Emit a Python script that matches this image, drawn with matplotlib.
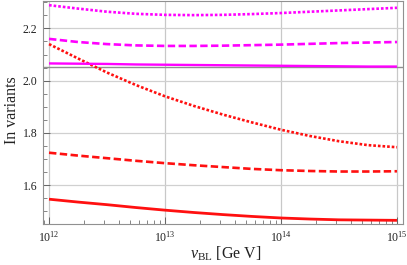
import numpy as np
import matplotlib
matplotlib.use("Agg")
import matplotlib.pyplot as plt
from matplotlib.ticker import LogLocator, FixedLocator, NullFormatter

plt.rcParams['font.family'] = ['Liberation Serif', 'DejaVu Serif']
plt.rcParams['mathtext.fontset'] = 'custom'
plt.rcParams['mathtext.rm'] = 'Liberation Serif'
plt.rcParams['mathtext.it'] = 'Liberation Serif:italic'

# log10(v_BL / GeV)
log_v = [12.0, 12.25, 12.5, 12.75, 13.0, 13.25, 13.5, 13.75, 14.0, 14.25, 14.5, 14.75, 15.0]

red_solid = [1.546, 1.535, 1.525, 1.514, 1.504, 1.495, 1.487, 1.480, 1.474, 1.470, 1.467, 1.466, 1.465]
red_dashed = [1.724, 1.713, 1.703, 1.693, 1.684, 1.676, 1.669, 1.662, 1.657, 1.654, 1.652, 1.652, 1.653]
red_dotted = [2.140, 2.085, 2.031, 1.983, 1.940, 1.903, 1.870, 1.840, 1.812, 1.788, 1.768, 1.753, 1.745]
mag_solid = [2.066, 2.065, 2.064, 2.062, 2.061, 2.060, 2.059, 2.058, 2.057, 2.056, 2.055, 2.054, 2.054]
mag_dashed = [2.160, 2.148, 2.140, 2.135, 2.133, 2.133, 2.134, 2.136, 2.138, 2.141, 2.144, 2.146, 2.148]
mag_dotted = [2.289, 2.276, 2.264, 2.256, 2.252, 2.251, 2.252, 2.255, 2.259, 2.264, 2.269, 2.274, 2.279]

xticks = [1e12, 1e13, 1e14, 1e15]
xticklabels = ['10$^{12}$', '10$^{13}$', '10$^{14}$', '10$^{15}$']
yticks = [1.6, 1.8, 2.0, 2.2]
yticklabels = ['1.6', '1.8', '2.0', '2.2']
axis_level = 2.051

v = 10.0 ** np.array(log_v)

fig = plt.figure(figsize=(4.07, 2.65), dpi=100)
ax = fig.add_axes([43/407, 41/265, 360/407, 223.5/265])

ax.set_xscale('log')
ax.set_xlim(10 ** 11.948, 10 ** 15.052)
ax.set_ylim(1.451, 2.307)

# grid
for xt in xticks:
    ax.axvline(xt, color='#c8c8c8', lw=0.9, zorder=0)
for yt in yticks:
    ax.axhline(yt, color='#d0d0d0', lw=0.9, zorder=0)
ax.axhline(axis_level, color='#909090', lw=1.0, zorder=0.5)

red = '#ff1010'
mag = '#ff00ff'
dot = (0, (1.0, 0.75))
dash = (0, (2.8, 1.3))

ax.plot(v, red_solid, color=red, lw=2.0, solid_capstyle='butt')
ax.plot(v, red_dashed, color=red, lw=1.9, ls=dash, dash_capstyle='butt')
ax.plot(v, red_dotted, color=red, lw=1.9, ls=dot, dash_capstyle='butt')
ax.plot(v, mag_solid, color=mag, lw=1.7, solid_capstyle='butt')
ax.plot(v, mag_dashed, color=mag, lw=1.9, ls=dash, dash_capstyle='butt')
ax.plot(v, mag_dotted, color=mag, lw=1.9, ls=dot, dash_capstyle='butt')

ax.set_xticks(xticks)
ax.set_xticklabels(xticklabels)
ax.xaxis.set_minor_locator(LogLocator(base=10, subs=np.arange(2, 10)))
ax.xaxis.set_minor_formatter(NullFormatter())
ax.set_yticks(yticks)
ax.set_yticklabels(yticklabels)
ax.yaxis.set_minor_locator(FixedLocator([1.5, 1.55, 1.65, 1.7, 1.75, 1.85, 1.9, 1.95,
                                          2.05, 2.1, 2.15, 2.25, 2.3]))

ax.tick_params(which='both', direction='in', color='#555555', labelsize=8.5,
               top=False, right=False, labelcolor='#222222')
ax.tick_params(which='major', length=5, width=0.6)
ax.tick_params(which='minor', length=3, width=0.5)
ax.tick_params(axis='x', pad=4)
ax.tick_params(axis='y', pad=4)

for s in ax.spines.values():
    s.set_color('#909090')
    s.set_linewidth(0.8)

fig.text(12/407, 1 - 110/265, 'In variants', rotation=90, fontsize=11.5,
         color='#222222', ha='center', va='center')
fig.text(226/407, 1 - 254/265, r'$\mathit{v}_{\mathrm{BL}}$ [Ge V]', fontsize=11.5,
         color='#222222', ha='center', va='center')

fig.savefig('out.png', dpi=100)
